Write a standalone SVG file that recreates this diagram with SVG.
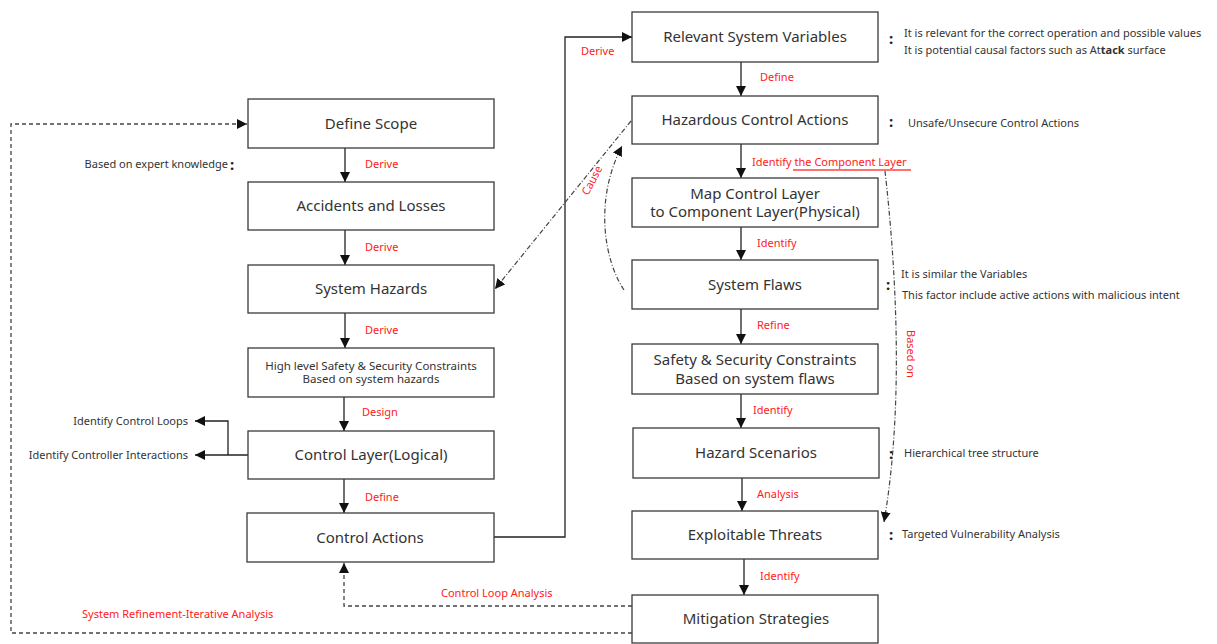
<svg xmlns="http://www.w3.org/2000/svg" width="1217" height="644" viewBox="0 0 1217 644">
<defs>
<style>
.box{fill:#fff;stroke:#3a3a3a;stroke-width:1.3}
.bt{font-family:"Noto Sans","Open Sans",sans-serif;font-size:15px;fill:#333;text-anchor:middle}
.bts{font-family:"Noto Sans","Open Sans",sans-serif;font-size:11.5px;fill:#333;text-anchor:middle}
.lbl{font-family:"Noto Sans","Open Sans",sans-serif;font-size:11px;fill:#ff2020}
.ann{font-family:"Noto Sans","Open Sans",sans-serif;font-size:11px;fill:#333}
.col{font-family:"Noto Sans",sans-serif;font-size:15px;font-weight:bold;fill:#222}
.ln{fill:none;stroke:#222;stroke-width:1.3}
.dash{fill:none;stroke:#444;stroke-width:1.3;stroke-dasharray:4 3}
.dd{fill:none;stroke:#444;stroke-width:1.2;stroke-dasharray:5 2 1 2}
</style>
<marker id="ahb" viewBox="0 0 10 10" refX="10" refY="5" markerWidth="10" markerHeight="10" orient="auto" markerUnits="userSpaceOnUse">
<path d="M0,0 L10,5 L0,10 z" fill="#111"/>
</marker>
</defs>

<g id="connectors">
<line class="ln" x1="345" y1="148" x2="345" y2="182" marker-end="url(#ahb)"/>
<line class="ln" x1="345" y1="230" x2="345" y2="265" marker-end="url(#ahb)"/>
<line class="ln" x1="345" y1="313" x2="345" y2="348" marker-end="url(#ahb)"/>
<line class="ln" x1="344" y1="397" x2="344" y2="431" marker-end="url(#ahb)"/>
<line class="ln" x1="344" y1="479" x2="344" y2="513" marker-end="url(#ahb)"/>
<polyline class="ln" points="248,455 195,455" marker-end="url(#ahb)"/>
<polyline class="ln" points="228,455 228,421 195,421" marker-end="url(#ahb)"/>
<polyline class="ln" points="494,537 565,537 565,37 632,37" marker-end="url(#ahb)"/>
<line class="ln" x1="741" y1="62" x2="741" y2="96" marker-end="url(#ahb)"/>
<line class="ln" x1="741" y1="144" x2="741" y2="178" marker-end="url(#ahb)"/>
<line class="ln" x1="741" y1="227" x2="741" y2="260" marker-end="url(#ahb)"/>
<line class="ln" x1="741" y1="309" x2="741" y2="344" marker-end="url(#ahb)"/>
<line class="ln" x1="741" y1="394" x2="741" y2="428" marker-end="url(#ahb)"/>
<line class="ln" x1="742" y1="478" x2="742" y2="511" marker-end="url(#ahb)"/>
<line class="ln" x1="744" y1="559" x2="744" y2="595" marker-end="url(#ahb)"/>
<polyline class="dash" points="632,606 344,606 344,563" marker-end="url(#ahb)"/>
<polyline class="dash" points="632,633 11,633 11,124 247,124" marker-end="url(#ahb)"/>
<line class="dd" x1="631" y1="121" x2="495" y2="289" marker-end="url(#ahb)"/>
<path class="dd" d="M624,290 C604,260 594,200 622,146" marker-end="url(#ahb)"/>
<line x1="793" y1="170" x2="911" y2="170" stroke="#ff4040" stroke-width="1.3"/>
<path class="dd" d="M885,171 C895,260 905,400 884,522" marker-end="url(#ahb)"/>
</g>

<g id="labels">
<text class="lbl" x="365" y="168">Derive</text>
<text class="lbl" x="365" y="251">Derive</text>
<text class="lbl" x="365" y="334">Derive</text>
<text class="lbl" x="362" y="416">Design</text>
<text class="lbl" x="365" y="501">Define</text>
<text class="lbl" x="581" y="55">Derive</text>
<text class="lbl" x="760" y="81">Define</text>
<text class="lbl" x="752" y="166">Identify the Component Layer</text>
<text class="lbl" x="757" y="247">Identify</text>
<text class="lbl" x="757" y="329">Refine</text>
<text class="lbl" x="753" y="414">Identify</text>
<text class="lbl" x="757" y="498">Analysis</text>
<text class="lbl" x="760" y="580">Identify</text>
<text class="lbl" x="441" y="597">Control Loop Analysis</text>
<text class="lbl" x="82" y="618">System Refinement-Iterative Analysis</text>
<text class="lbl" transform="translate(588,196) rotate(-62)">Cause</text>
<text class="lbl" transform="translate(907,330) rotate(90)">Based on</text>
</g>

<g id="annotations">
<text class="ann" x="228" y="168" text-anchor="end">Based on expert knowledge</text>
<text class="col" x="230" y="170">:</text>
<text class="ann" x="188" y="425" text-anchor="end">Identify Control Loops</text>
<text class="ann" x="188" y="459" text-anchor="end">Identify Controller Interactions</text>
<text class="col" x="889" y="44">:</text>
<text class="ann" x="904" y="37">It is relevant for the correct operation and possible values</text>
<text class="ann" x="904" y="54">It is potential causal factors such as At<tspan font-weight="bold">tack</tspan> surface</text>
<text class="col" x="889" y="127">:</text>
<text class="ann" x="908" y="127">Unsafe/Unsecure Control Actions</text>
<text class="col" x="886" y="290">:</text>
<text class="ann" x="901" y="278">It is similar the Variables</text>
<text class="ann" x="902" y="299">This factor include active actions with malicious intent</text>
<text class="col" x="889" y="459">:</text>
<text class="ann" x="904" y="457">Hierarchical tree structure</text>
<text class="col" x="889" y="540">:</text>
<text class="ann" x="902" y="538">Targeted Vulnerability Analysis</text>
</g>

<g id="define-scope"><rect class="box" x="248" y="99" width="246" height="49"/><text class="bt" x="371" y="129">Define Scope</text></g>
<g id="accidents"><rect class="box" x="248" y="182" width="246" height="48"/><text class="bt" x="371" y="211">Accidents and Losses</text></g>
<g id="system-hazards"><rect class="box" x="248" y="265" width="246" height="48"/><text class="bt" x="371" y="294">System Hazards</text></g>
<g id="high-level"><rect class="box" x="248" y="348" width="246" height="49"/><text class="bts" x="371" y="370">High level Safety &amp; Security Constraints</text><text class="bts" x="371" y="383">Based on system hazards</text></g>
<g id="control-layer"><rect class="box" x="248" y="431" width="246" height="48"/><text class="bt" x="371" y="460">Control Layer(Logical)</text></g>
<g id="control-actions"><rect class="box" x="247" y="513" width="247" height="49"/><text class="bt" x="370" y="543">Control Actions</text></g>

<g id="relevant-vars"><rect class="box" x="632" y="12" width="246" height="50"/><text class="bt" x="755" y="42">Relevant System Variables</text></g>
<g id="hca"><rect class="box" x="632" y="96" width="246" height="48"/><text class="bt" x="755" y="125">Hazardous Control Actions</text></g>
<g id="map-layer"><rect class="box" x="632" y="178" width="246" height="49"/><text class="bt" x="755" y="199">Map Control Layer</text><text class="bt" x="755" y="217">to Component Layer(Physical)</text></g>
<g id="system-flaws"><rect class="box" x="632" y="260" width="246" height="49"/><text class="bt" x="755" y="290">System Flaws</text></g>
<g id="ss-constraints"><rect class="box" x="632" y="344" width="246" height="50"/><text class="bt" x="755" y="365">Safety &amp; Security Constraints</text><text class="bt" x="755" y="384">Based on system flaws</text></g>
<g id="hazard-scenarios"><rect class="box" x="633" y="428" width="246" height="50"/><text class="bt" x="756" y="458">Hazard Scenarios</text></g>
<g id="exploitable"><rect class="box" x="632" y="511" width="246" height="48"/><text class="bt" x="755" y="540">Exploitable Threats</text></g>
<g id="mitigation"><rect class="box" x="632" y="595" width="246" height="48"/><text class="bt" x="756" y="624">Mitigation Strategies</text></g>
</svg>
